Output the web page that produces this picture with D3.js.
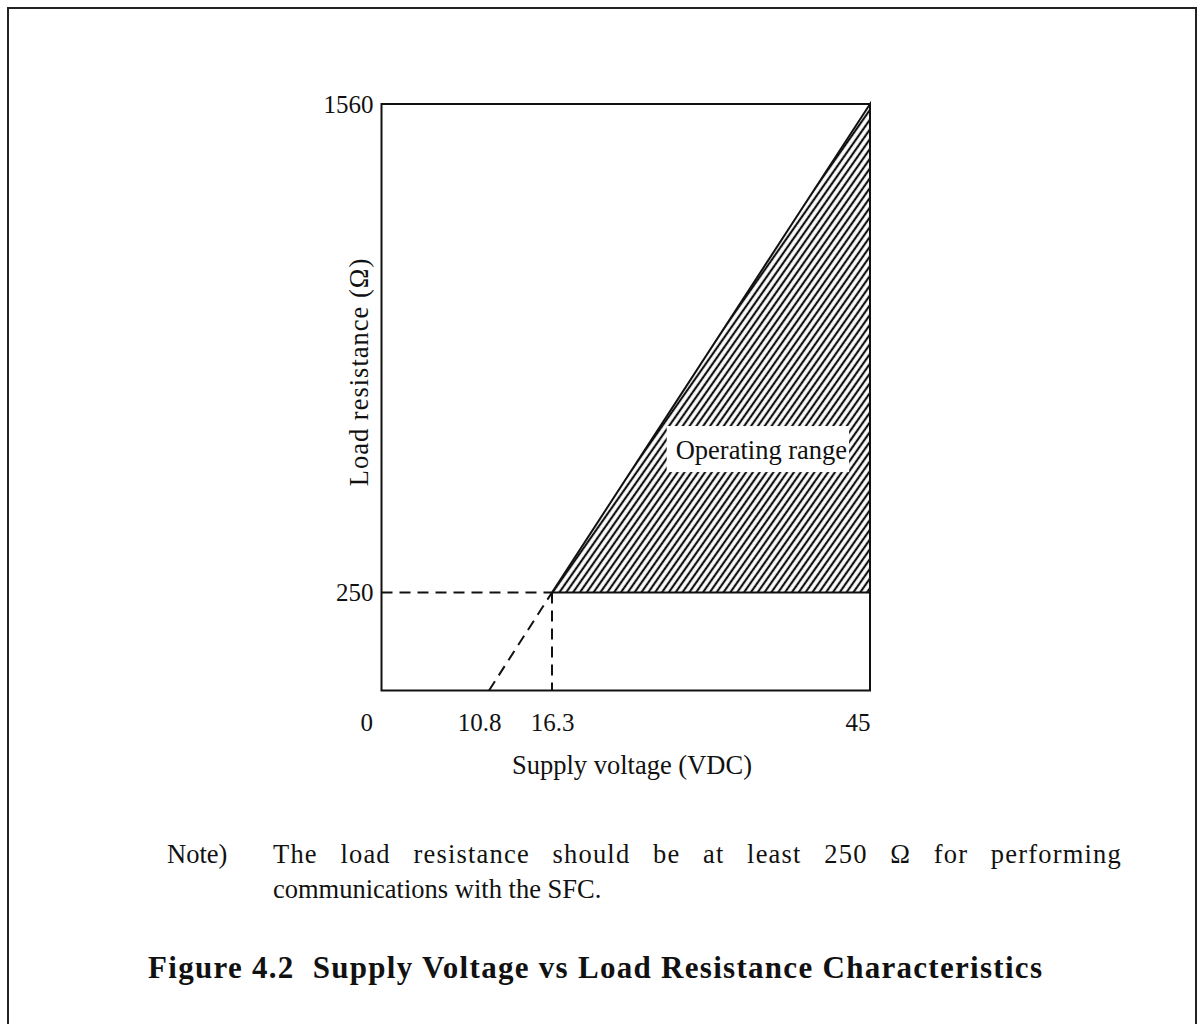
<!DOCTYPE html>
<html>
<head>
<meta charset="utf-8">
<script src="https://cdn.jsdelivr.net/npm/d3@7"></script>
<style>
  body { margin: 0; background: #fff; }
  svg text { font-family: "Liberation Serif", "Times New Roman", serif; fill: #111; }
</style>
</head>
<body>
<div id="chart"></div>
<script>
// Tick labels on the two axes
const xTicks = [0, 10.8, 16.3, 45];
const yTicks = [250, 1560];

// Shaded operating range (supply voltage, load resistance)
const operatingRange = [[16.3, 250], [45, 1560], [45, 250]];

// Dashed guide lines
const guideLines = [
  [[0, 250], [16.3, 250]],
  [[16.3, 250], [16.3, 0]],
  [[10.8, 0], [16.3, 250]]
];

const rangeLabel = {v: 35.2, r: 632, text: "Operating range"};

const noteLines = [
  "The load resistance should be at least 250 \u03A9 for performing",
  "communications with the SFC."
];
const title = "Figure 4.2  Supply Voltage vs Load Resistance Characteristics";

const width = 1198, height = 1024;

const svg = d3.select("#chart").append("svg")
    .attr("width", width)
    .attr("height", height);

// hatch pattern
const defs = svg.append("defs");
const pat = defs.append("pattern")
    .attr("id", "hatch")
    .attr("patternUnits", "userSpaceOnUse")
    .attr("width", 5.6)
    .attr("height", 10)
    .attr("patternTransform", "rotate(35)");
pat.append("line")
    .attr("x1", 2.8).attr("x2", 2.8)
    .attr("y1", 0).attr("y2", 10)
    .attr("stroke", "#111")
    .attr("stroke-width", 2.2);

// outer frame of the page
svg.append("rect")
    .attr("x", 8).attr("y", 8)
    .attr("width", 1188).attr("height", 1040)
    .attr("fill", "none")
    .attr("stroke", "#222")
    .attr("stroke-width", 2);

// Scales (the drawing is schematic, so piecewise)
const x = d3.scaleLinear()
    .domain([0, 10.8, 16.3, 45])
    .range([381.5, 489, 552, 870]);
const y = d3.scaleLinear()
    .domain([0, 250, 1560])
    .range([690.5, 592.5, 104]);

const line = d3.line().x(d => x(d[0])).y(d => y(d[1]));

// operating range area
svg.append("path")
    .datum(operatingRange)
    .attr("d", d => line(d) + "Z")
    .attr("fill", "url(#hatch)")
    .attr("stroke", "#111")
    .attr("stroke-width", 2);

// dashed guides
svg.selectAll(".guide")
  .data(guideLines)
  .enter().append("path")
    .attr("class", "guide")
    .attr("d", line)
    .attr("fill", "none")
    .attr("stroke", "#111")
    .attr("stroke-width", 2)
    .attr("stroke-dasharray", "11,7");

// label with white box
const lg = svg.append("g");
const lt = lg.append("text")
    .attr("x", x(rangeLabel.v))
    .attr("y", y(rangeLabel.r))
    .attr("text-anchor", "middle")
    .attr("dominant-baseline", "central")
    .style("font-size", "26.5px")
    .text(rangeLabel.text);
const bb = lt.node().getBBox();
lg.insert("rect", "text")
    .attr("x", bb.x - 9)
    .attr("y", bb.y - 9)
    .attr("width", bb.width + 11)
    .attr("height", bb.height + 16)
    .attr("fill", "#fff");

// plot frame
svg.append("rect")
    .attr("x", x(0)).attr("y", y(1560))
    .attr("width", x(45) - x(0))
    .attr("height", y(0) - y(1560))
    .attr("fill", "none")
    .attr("stroke", "#111")
    .attr("stroke-width", 2);

// Axes (labels only)
const xAxis = d3.axisBottom(x).tickValues(xTicks).tickSize(0).tickPadding(23)
    .tickFormat(d3.format(""));
const yAxis = d3.axisLeft(y).tickValues(yTicks).tickSize(0).tickPadding(8)
    .tickFormat(d3.format(""));

const gx = svg.append("g")
    .attr("transform", "translate(0," + y(0) + ")")
    .call(xAxis);
const gy = svg.append("g")
    .attr("transform", "translate(" + x(0) + ",0)")
    .call(yAxis);
[gx, gy].forEach(g => {
  g.select(".domain").remove();
  g.selectAll("text")
    .style("font-family", "'Liberation Serif', serif")
    .style("font-size", "25px")
    .attr("fill", "#111");
});
gx.selectAll(".tick text")
    .attr("text-anchor", d => d === 0 || d === 45 ? "end" : "middle")
    .attr("dx", d => d === 0 ? -9 : (d === 10.8 ? -10 : 0));

// axis titles
svg.append("text")
    .attr("x", 632)
    .attr("y", 774)
    .attr("text-anchor", "middle")
    .style("font-size", "26.5px")
    .text("Supply voltage (VDC)");

svg.append("text")
    .attr("transform", "translate(359,372) rotate(-90)")
    .attr("text-anchor", "middle")
    .attr("dominant-baseline", "central")
    .style("font-size", "26.5px")
    .style("letter-spacing", "1px")
    .text("Load resistance (\u03A9)");

// note
svg.append("text")
    .attr("x", 167).attr("y", 863)
    .style("font-size", "26.5px")
    .text("Note)");
const notes = svg.selectAll(".note")
  .data(noteLines)
  .enter().append("text")
    .attr("class", "note")
    .attr("x", 273)
    .attr("y", (d, i) => 863 + i * 35)
    .style("font-size", "26.5px")
    .text(d => d);
// first line is justified to the right margin
const first = notes.filter((d, i) => i === 0).style("letter-spacing", "1.2px");
const natural = first.node().getComputedTextLength();
const spaces = noteLines[0].split(" ").length - 1;
first.style("word-spacing", ((1122 - 273 - natural) / spaces) + "px");

svg.append("text")
    .attr("x", 148).attr("y", 978)
    .style("font-size", "31px")
    .style("font-weight", "bold")
    .style("white-space", "pre")
    .attr("textLength", 894)
    .attr("lengthAdjust", "spacing")
    .text(title);
</script>
</body>
</html>
